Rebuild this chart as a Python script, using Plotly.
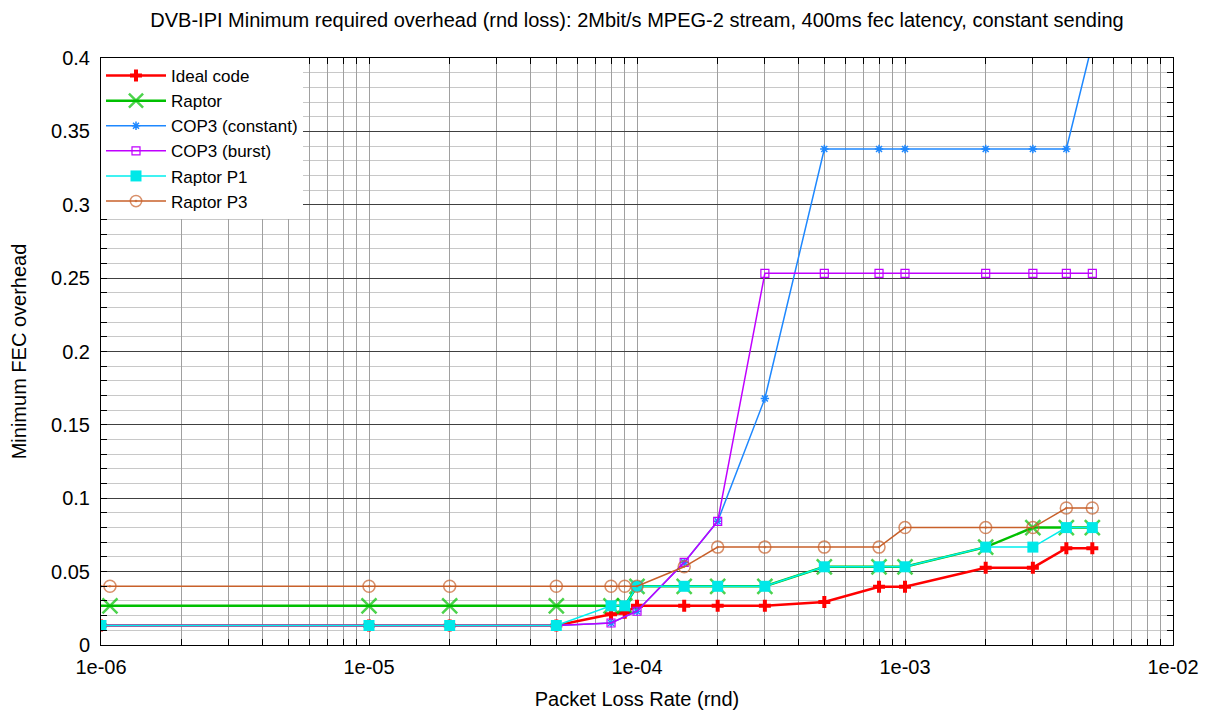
import plotly.graph_objects as go

# ---- data ----
x_ideal = [1e-6, 1e-5, 2e-5, 5e-5, 8e-5, 9e-5, 1e-4, 1.5e-4, 2e-4, 3e-4, 5e-4, 8e-4, 1e-3, 2e-3, 3e-3, 4e-3, 5e-3]
y_ideal = [0.0133, 0.0133, 0.0133, 0.0133, 0.021, 0.022, 0.0267, 0.0267, 0.0267, 0.0267, 0.0293, 0.0397, 0.0397, 0.0527, 0.0527, 0.066, 0.066]

x_raptor = [1e-6, 1.08e-6, 1e-5, 2e-5, 5e-5, 8e-5, 9e-5, 1e-4, 1.5e-4, 2e-4, 3e-4, 5e-4, 8e-4, 1e-3, 2e-3, 3e-3, 4e-3, 5e-3]
y_raptor = [0.0267, 0.0267, 0.0267, 0.0267, 0.0267, 0.0267, 0.0267, 0.04, 0.04, 0.04, 0.04, 0.0533, 0.0533, 0.0533, 0.0667, 0.08, 0.08, 0.08]

x_cop = [1e-6, 1e-5, 2e-5, 5e-5, 8e-5, 1e-4, 1.5e-4, 2e-4, 3e-4, 5e-4, 8e-4, 1e-3, 2e-3, 3e-3, 4e-3, 5e-3]
y_cop_const = [0.0133, 0.0133, 0.0133, 0.0133, 0.015, 0.023, 0.0563, 0.0843, 0.168, 0.338, 0.338, 0.338, 0.338, 0.338, 0.338, 0.41]
y_cop_burst = [0.0133, 0.0133, 0.0133, 0.0133, 0.015, 0.023, 0.0563, 0.0843, 0.2533, 0.2533, 0.2533, 0.2533, 0.2533, 0.2533, 0.2533, 0.2533]

x_p1 = [1e-6, 1e-5, 2e-5, 5e-5, 8e-5, 9e-5, 1e-4, 1.5e-4, 2e-4, 3e-4, 5e-4, 8e-4, 1e-3, 2e-3, 3e-3, 4e-3, 5e-3]
y_p1 = [0.0133, 0.0133, 0.0133, 0.0133, 0.0267, 0.0267, 0.04, 0.04, 0.04, 0.04, 0.0533, 0.0533, 0.0533, 0.0667, 0.0667, 0.08, 0.08]

x_p3 = [1e-6, 1.08e-6, 1e-5, 2e-5, 5e-5, 8e-5, 9e-5, 1e-4, 1.5e-4, 2e-4, 3e-4, 5e-4, 8e-4, 1e-3, 2e-3, 3e-3, 4e-3, 5e-3]
y_p3 = [0.04, 0.04, 0.04, 0.04, 0.04, 0.04, 0.04, 0.04, 0.0533, 0.0667, 0.0667, 0.0667, 0.0667, 0.08, 0.08, 0.08, 0.0933, 0.0933]

x_tick_vals = [1e-6, 1e-5, 1e-4, 1e-3, 1e-2]
x_tick_text = ["1e-06", "1e-05", "1e-04", "1e-03", "1e-02"]

title_text = "DVB-IPI Minimum required overhead (rnd loss): 2Mbit/s MPEG-2 stream, 400ms fec latency, constant sending"

FONT = "Liberation Sans, Arial, sans-serif"
FS = 20
LFS = 17

fig = go.Figure()

def sizes(xs, s):
    # first point at the axis edge is drawn as line only when series has an offset marker point
    return [0 if (i == 0 and len(xs) > 1 and xs[1] < 2e-6) else s for i in range(len(xs))]

fig.add_trace(go.Scatter(x=x_ideal, y=y_ideal, name="Ideal code", mode="lines+markers",
                         line=dict(color="#ff0000", width=2.5),
                         marker=dict(symbol="cross", size=10, color="#ff0000")))
fig.add_trace(go.Scatter(x=x_raptor, y=y_raptor, name="Raptor", mode="lines+markers",
                         line=dict(color="#00c000", width=2.5),
                         marker=dict(symbol="x-thin-open", size=sizes(x_raptor, 15),
                                     line=dict(color="#00c000", width=2.5), color="#00c000")))
fig.add_trace(go.Scatter(x=x_cop, y=y_cop_const, name="COP3 (constant)", mode="lines+markers",
                         line=dict(color="#1e88ff", width=1.5),
                         marker=dict(symbol="asterisk-open", size=7,
                                     line=dict(color="#1e88ff", width=1.5), color="#1e88ff")))
fig.add_trace(go.Scatter(x=x_cop, y=y_cop_burst, name="COP3 (burst)", mode="lines+markers",
                         line=dict(color="#c000ff", width=1.5),
                         marker=dict(symbol="square-open", size=8,
                                     line=dict(color="#c000ff", width=1.2), color="#c000ff")))
fig.add_trace(go.Scatter(x=x_p1, y=y_p1, name="Raptor P1", mode="lines+markers",
                         line=dict(color="#00eeee", width=1.5),
                         marker=dict(symbol="square", size=11, color="#00e8e8")))
fig.add_trace(go.Scatter(x=x_p3, y=y_p3, name="Raptor P3", mode="lines+markers",
                         line=dict(color="#c8602a", width=1.5),
                         marker=dict(symbol="circle-open-dot", size=sizes(x_p3, 12),
                                     line=dict(color="#c8602a", width=1.5), color="#c8602a")))

# x ticks: all 1..9 multiples for grid, labels only at decades
all_x = []
all_txt = []
for e in range(-6, -1):
    for m in range(1, 10):
        v = m * 10.0 ** e
        all_x.append(v)
        all_txt.append(x_tick_text[e + 6] if m == 1 else "")
all_x.append(1e-2)
all_txt.append(x_tick_text[-1])

fig.update_layout(
    width=1208, height=713,
    margin=dict(l=93, r=43, t=50, b=76),
    paper_bgcolor="white", plot_bgcolor="white",
    font=dict(family=FONT, size=FS, color="#000000"),
    title=dict(text=title_text, xref="paper", x=0.5, xanchor="center", y=0.983, yanchor="middle",
               font=dict(family=FONT, size=FS, color="#000000")),
    showlegend=True,
    legend=dict(x=0.0, y=1.0, xanchor="left", yanchor="top", bgcolor="white",
                borderwidth=0, font=dict(family=FONT, size=LFS, color="#000000"),
                itemwidth=60, tracegroupgap=0),
)

fig.update_xaxes(
    type="log", range=[-6, -2], automargin=False,
    tickmode="array", tickvals=all_x, ticktext=all_txt,
    ticks="inside", ticklen=6, tickcolor="#000000",
    showgrid=True, gridcolor="#a0a0a0", gridwidth=1,
    showline=True, linecolor="#000000", linewidth=1, mirror="allticks",
    zeroline=False, ticklabelstandoff=4,
    title=dict(text="Packet Loss Rate (rnd)", font=dict(family=FONT, size=FS), standoff=14),
    tickfont=dict(family=FONT, size=FS),
)
fig.update_yaxes(
    range=[0, 0.4], dtick=0.05, tick0=0, tickformat="~g", automargin=False,
    ticks="inside", ticklen=6, tickcolor="#000000",
    showgrid=True, gridcolor="#404040", gridwidth=1,
    minor=dict(dtick=0.01, showgrid=True, gridcolor="#c8c8c8", ticks="inside", ticklen=6, tickcolor="#000000"),
    showline=True, linecolor="#000000", linewidth=1, mirror="allticks",
    zeroline=False, ticklabelstandoff=6,
    title=dict(text="Minimum FEC overhead", font=dict(family=FONT, size=FS), standoff=26),
    tickfont=dict(family=FONT, size=FS),
)

fig.write_html("out.html")
